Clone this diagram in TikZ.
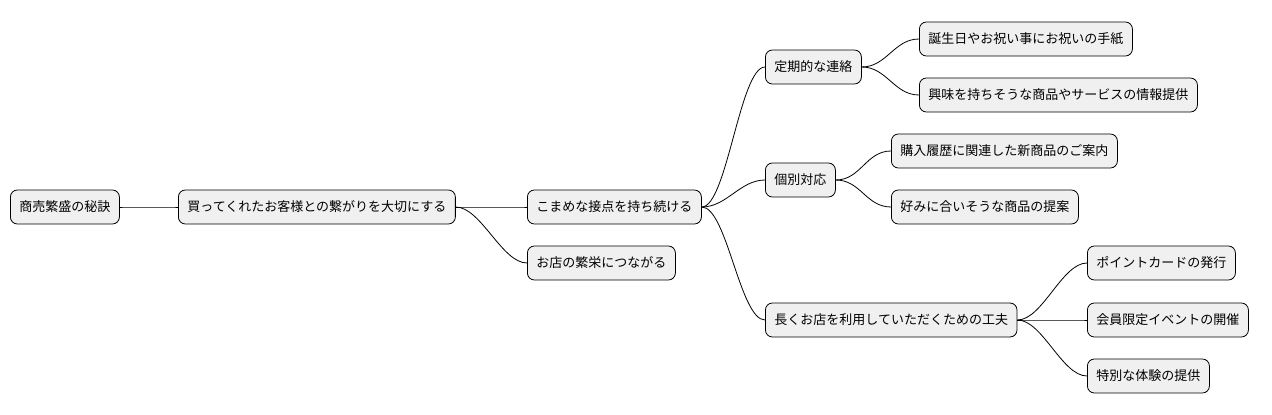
\documentclass[tikz,border=0pt]{standalone}
\usepackage{fontspec}
\setmainfont{Noto Sans CJK JP}
\begin{document}
\begin{tikzpicture}[x=1pt,y=-1pt,
  box/.style={draw=black,fill=gray!12,rounded corners=7pt,line width=0.8pt,minimum height=34pt,inner xsep=9pt,inner ysep=0pt,font=\fontsize{13}{15}\selectfont,anchor=west},
  link/.style={line width=0.8pt}]
\useasboundingbox (0,0) rectangle (1272,415);
\node[box] (r) at (10,207) {商売繁盛の秘訣};
\node[box] (a) at (178,207) {買ってくれたお客様との繋がりを大切にする};
\node[box] (b) at (527,207) {こまめな接点を持ち続ける};
\node[box] (c) at (527,263) {お店の繁栄につながる};
\node[box] (d) at (765,67) {定期的な連絡};
\node[box] (e) at (765,180) {個別対応};
\node[box] (f) at (765,320) {長くお店を利用していただくための工夫};
\node[box] (d1) at (919,39) {誕生日やお祝い事にお祝いの手紙};
\node[box] (d2) at (919,95) {興味を持ちそうな商品やサービスの情報提供};
\node[box] (e1) at (891,151) {購入履歴に関連した新商品のご案内};
\node[box] (e2) at (891,207) {好みに合いそうな商品の提案};
\node[box] (f1) at (1087,263) {ポイントカードの発行};
\node[box] (f2) at (1087,320) {会員限定イベントの開催};
\node[box] (f3) at (1087,376) {特別な体験の提供};
\foreach \p/\c in {r/a,a/b,a/c,b/d,b/e,b/f,d/d1,d/d2,e/e1,e/e2,f/f1,f/f2,f/f3}
  \draw[link] (\p.east) .. controls +(25,0) and +(-25,0) .. (\c.west);
\end{tikzpicture}
\end{document}
